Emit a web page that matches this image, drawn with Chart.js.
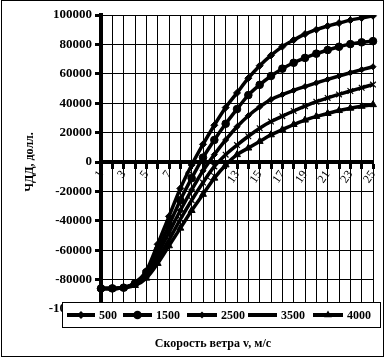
<!DOCTYPE html>
<html>
<head>
<meta charset="utf-8">
<script src="https://cdn.jsdelivr.net/npm/chart.js@4"></script>
<style>
  html, body { margin: 0; padding: 0; background: #fff; }
</style>
</head>
<body>
<canvas id="grafico" width="386" height="363"></canvas>
<script>
// скорость ветра, м/с
var categorias = ["1", "2", "3", "4", "5", "6", "7", "8", "9", "10", "11", "12", "13",
  "14", "15", "16", "17", "18", "19", "20", "21", "22", "23", "24", "25"];

var nomes = ["500", "1500", "2500", "3500", "4000"];

var s500 = [-86000, -86000, -85500, -82000, -74000, -56000, -37000, -18000, -2000, 12000, 25000, 37000, 47000,
  57000, 65500, 72500, 78500, 83000, 87000, 90000, 92500, 94500, 96500, 98000, 99500];
var s1500 = [-86000, -86000, -85500, -82500, -75000, -60000, -43000, -26000, -11000, 3000, 15000, 26000, 36000,
  45500, 52500, 58500, 63500, 67500, 70800, 73700, 76200, 78400, 80200, 81400, 82200];
var s2500 = [-86000, -86000, -85500, -83000, -76000, -63000, -48000, -33000, -19000, -6000, 5000, 15000, 24000,
  31500, 37500, 42500, 45800, 48700, 51300, 53800, 56200, 58500, 60700, 62800, 64800];
var s3500 = [-86000, -86000, -85500, -83000, -77000, -66000, -53000, -39000, -26000, -14000, -3000, 5000, 11500,
  17500, 23000, 27500, 31200, 34700, 38000, 41000, 43600, 46000, 48300, 50500, 52700];
var s4000 = [-86000, -86000, -85500, -84000, -79000, -69000, -57000, -45000, -33000, -22000, -11000, -2000, 5000,
  9500, 14000, 18500, 22000, 25500, 28500, 31000, 33000, 35000, 36600, 37900, 39000];

var yMin = -100000;
var yMax = 100000;
var yPasso = 20000;

var series = [s500, s1500, s2500, s3500, s4000];
var marcadores = ["rectRot", "circle", "rectRot", "crossRot", "triangle"];
var raios = [3.5, 3.8, 3, 4, 4];

var fonteSerif = "'Liberation Serif', 'Times New Roman', serif";

var datasets = series.map(function (s, i) {
  return {
    label: nomes[i],
    data: s,
    borderColor: "#000",
    backgroundColor: "#000",
    borderWidth: 3.5,
    pointStyle: marcadores[i],
    pointRadius: raios[i],
    pointBorderWidth: marcadores[i] === "crossRot" ? 1.2 : 1,
    pointBorderColor: "#000",
    pointBackgroundColor: "#000",
    cubicInterpolationMode: "monotone",
    fill: false
  };
});

// moldura, titulos dos eixos e legenda
var moldura = {
  id: "moldura",
  beforeDraw: function (chart) {
    var ctx = chart.ctx;
    ctx.save();
    ctx.fillStyle = "#fff";
    ctx.fillRect(0, 0, chart.width, chart.height);
    ctx.restore();
  },
  afterDraw: function (chart) {
    var ctx = chart.ctx;
    ctx.save();
    ctx.strokeStyle = "#000";
    ctx.lineWidth = 1;
    ctx.strokeRect(1.5, 0.5, 382, 356);

    ctx.fillStyle = "#000";
    ctx.font = "bold 12px " + fonteSerif;
    ctx.textAlign = "center";
    ctx.textBaseline = "alphabetic";
    ctx.fillText("Скорость ветра v, м/с", 213, 347);

    ctx.save();
    ctx.translate(33, 162);
    ctx.rotate(-Math.PI / 2);
    ctx.textBaseline = "alphabetic";
    ctx.fillText("ЧДД, долл.", 0, 0);
    ctx.restore();

    // legenda
    ctx.fillStyle = "#fff";
    ctx.fillRect(62, 302, 318, 25);
    ctx.strokeRect(62.5, 302.5, 318, 25);
    var linhas = [[67, 95], [123, 152], [187, 217], [248, 277], [313, 343]];
    var cy = 315;
    ctx.font = "bold 12px " + fonteSerif;
    ctx.textAlign = "left";
    ctx.textBaseline = "middle";
    for (var i = 0; i < nomes.length; i++) {
      ctx.strokeStyle = "#000";
      ctx.lineWidth = 4;
      ctx.beginPath();
      ctx.moveTo(linhas[i][0], cy);
      ctx.lineTo(linhas[i][1], cy);
      ctx.stroke();
      ctx.lineWidth = marcadores[i] === "crossRot" ? 1.2 : 1;
      ctx.fillStyle = "#000";
      Chart.helpers.drawPoint(ctx, { pointStyle: marcadores[i], radius: raios[i] + 0.5, rotation: 0 },
        (linhas[i][0] + linhas[i][1]) / 2, cy);
      ctx.fillStyle = "#000";
      ctx.fillText(nomes[i], linhas[i][1] + 4, cy + 1);
    }
    ctx.restore();
  }
};

var ctx = document.getElementById("grafico").getContext("2d");
var myChart = new Chart(ctx, {
  type: "line",
  data: {
    labels: categorias,
    datasets: datasets
  },
  options: {
    responsive: false,
    animation: false,
    layout: { padding: { left: 0, right: 13, top: 15, bottom: 54 } },
    plugins: {
      legend: { display: false },
      tooltip: { enabled: false }
    },
    scales: {
      x: {
        type: "category",
        offset: false,
        position: { y: 0 },
        grid: { color: "#000", lineWidth: 1, tickLength: 5, tickWidth: 3, tickColor: "#000" },
        border: { display: true, color: "#000", width: 4 },
        ticks: {
          autoSkip: false,
          minRotation: 55,
          maxRotation: 55,
          padding: 1,
          color: "#000",
          font: { family: fonteSerif, size: 12 },
          callback: function (val, idx) {
            return idx % 2 === 0 ? categorias[idx] : "";
          }
        }
      },
      y: {
        min: yMin,
        max: yMax,
        afterFit: function (scale) { scale.width = 101; },
        grid: { color: "#000", lineWidth: 1, tickLength: 6, tickWidth: 3, tickColor: "#000" },
        border: { display: true, color: "#000", width: 4 },
        ticks: {
          stepSize: yPasso,
          padding: 3,
          color: "#000",
          font: { family: fonteSerif, size: 13, weight: "bold" },
          callback: function (val) { return String(val); }
        }
      }
    }
  },
  plugins: [moldura]
});
</script>
</body>
</html>
